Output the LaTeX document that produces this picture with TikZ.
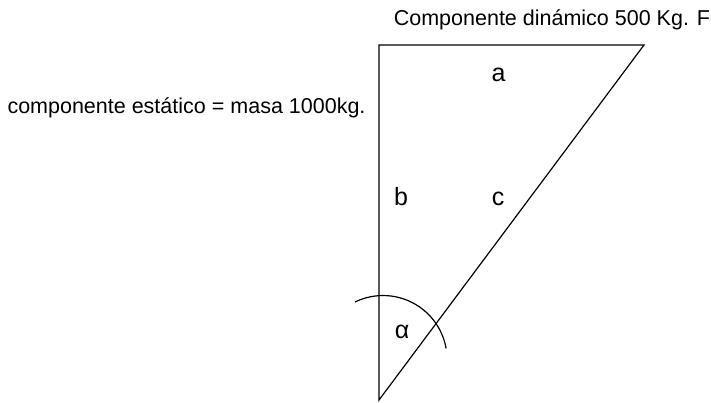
\documentclass[tikz,border=0pt]{standalone}
\usepackage{fontspec}
\setmainfont{Liberation Sans}
\begin{document}
\begin{tikzpicture}[x=1pt,y=-1pt,
  lbl/.style={inner sep=0pt,font=\fontsize{21.5}{23}\selectfont},
  side/.style={inner sep=0pt,font=\fontsize{25}{27}\selectfont},
  edge/.style={line width=1.2pt,line join=miter}]
\useasboundingbox (0,0) rectangle (711,402);
\coordinate (A) at (379,45);
\coordinate (B) at (644,45);
\coordinate (C) at (379,400);
\draw[edge] (A) -- (B) -- (C) -- cycle;
\coordinate (S) at (355,302);
\draw[edge] (S) arc[start angle=116,end angle=10,radius=64pt];
\node[lbl,anchor=base] (dyn) at (552,25) {Componente dinámico 500 Kg. F};
\node[lbl,anchor=base] (stat) at (186.5,113) {componente estático = masa 1000kg.};
\node[side,anchor=base] (la) at (498.5,81) {a};
\node[side,anchor=base] (lb) at (401,205) {b};
\node[side,anchor=base] (lc) at (498,205) {c};
\node[side,anchor=base] (lal) at (402,338) {α};
\end{tikzpicture}
\end{document}
